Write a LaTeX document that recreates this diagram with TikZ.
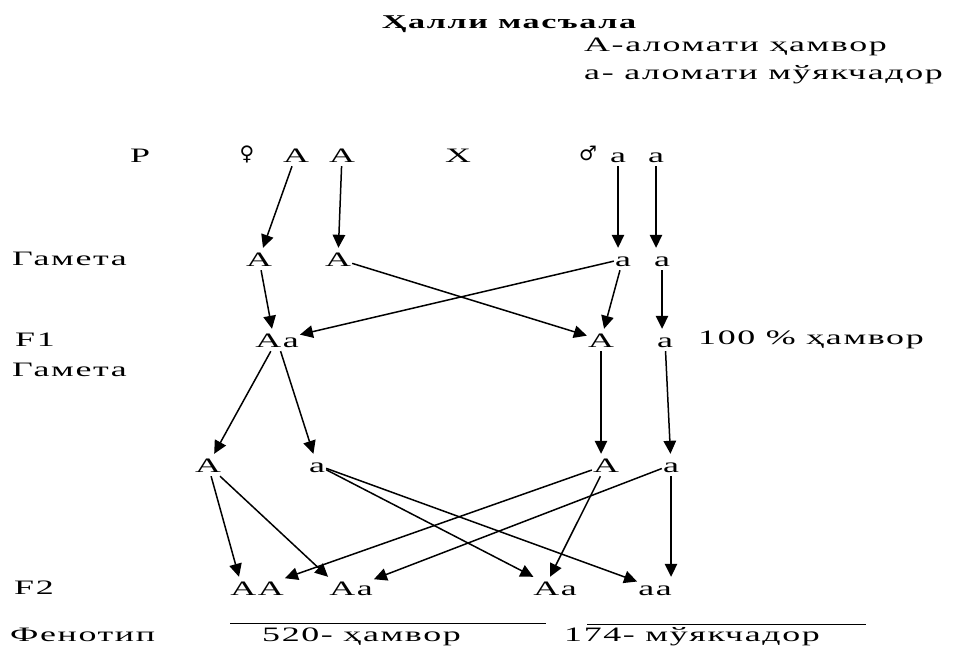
\documentclass[tikz,border=0pt]{standalone}
\usepackage{fontspec}
\setmainfont{Liberation Serif}[FakeStretch=1.75,LetterSpace=8]
\newfontfamily\symfont{DejaVu Sans}
\usetikzlibrary{arrows.meta}
\begin{document}
\begin{tikzpicture}[x=1pt,y=-1pt,
  lbl/.style={inner xsep=1pt,inner ysep=4pt,text height=14pt,text depth=0pt,font=\fontsize{20.5}{24}\selectfont},
  txt/.style={inner sep=0pt,anchor=west,font=\fontsize{20.5}{24}\selectfont},
  btxt/.style={inner sep=0pt,anchor=base west,font=\fontsize{20.5}{24}\selectfont},
  sym/.style={inner sep=1pt,font=\symfont\fontsize{20}{22}\selectfont},
  arr/.style={line width=1.5pt,-{Triangle[length=13pt,width=12.5pt]}},
  rule/.style={line width=1pt}]
\useasboundingbox (0,0) rectangle (955,648);
% header
\node[lbl,font=\fontsize{19.5}{23}\selectfont\bfseries] (title) at (509,21) {Ҳалли масъала};
\node[txt] (l1) at (584,47) {А-аломати ҳамвор};
\node[txt] (l2) at (584,75) {а- аломати мўякчадор};
% row P
\node[lbl] (P) at (140,155) {P};
\node[sym] (fem) at (247,154) {♀};
\node[lbl] (pA1) at (296,155) {A};
\node[lbl] (pA2) at (342,155) {A};
\node[lbl] (X) at (458,155) {X};
\node[sym] (mal) at (588,153) {♂};
\node[lbl] (pa1) at (618,155) {a};
\node[lbl] (pa2) at (656,155) {a};
% gametes
\node[txt] (gam1) at (12,259) {Гамета};
\node[lbl] (gA1) at (259,259) {A};
\node[lbl] (gA2) at (338,259) {A};
\node[lbl] (ga1) at (623,259) {a};
\node[lbl] (ga2) at (662,259) {a};
% F1
\node[txt] (F1) at (15,340) {F1};
\node[txt] (gam2) at (12,370) {Гамета};
\node[lbl] (f1Aa) at (277,340) {Aa};
\node[lbl] (f1A) at (601,340) {A};
\node[lbl] (f1a) at (665,340) {a};
\node[txt] (hundred) at (698,340) {100 \% ҳамвор};
% F1 gametes
\node[lbl] (gmA) at (208,465) {A};
\node[lbl] (gma) at (317,465) {a};
\node[lbl] (gmA2) at (606,465) {A};
\node[lbl] (gma2) at (671,465) {a};
% F2
\node[txt] (F2) at (14,588) {F2};
\node[lbl] (AA) at (257,588) {AA};
\node[lbl] (Aa1) at (351,588) {Aa};
\node[lbl] (Aa2) at (555,588) {Aa};
\node[lbl] (aa) at (655,588) {aa};
% phenotype
\node[btxt] (phen) at (10,641) {Фенотип};
\node[btxt] (dom) at (262,641) {520- ҳамвор};
\node[btxt] (rec) at (564,641) {174- мўякчадор};
\coordinate (r1a) at (230,623);
\coordinate (r1b) at (546,623);
\coordinate (r2a) at (587,624);
\coordinate (r2b) at (866,624);
\draw[rule] (r1a) -- (r1b);
\draw[rule] (r2a) -- (r2b);
% P -> gametes
\draw[arr] (pA1) -- (gA1);
\draw[arr] (pA2) -- (gA2);
\draw[arr] (pa1.south) -- (pa1.south |- ga1.north);
\draw[arr] (pa2.south) -- (pa2.south |- ga2.north);
% gametes -> F1
\draw[arr] (gA1) -- ([xshift=-5pt]f1Aa.north);
\draw[arr] (gA2) -- (f1A);
\draw[arr] (ga1) -- (f1Aa);
\draw[arr] (ga1) -- (f1A);
\draw[arr] (ga2.south) -- (ga2.south |- f1a.north);
% F1 -> gametes
\draw[arr] (f1Aa) -- (gmA);
\draw[arr] (f1Aa) -- (gma);
\draw[arr] (f1A.south) -- (f1A.south |- gmA2.north);
\draw[arr] (f1a) -- (gma2);
% gametes -> F2
\draw[arr] (gmA) -- ([xshift=-18pt]AA.north);
\draw[arr] (gmA) -- (Aa1.north west);
\draw[arr] (gma) -- (Aa2);
\draw[arr] (gma) -- (aa);
\draw[arr] (gmA2) -- (AA);
\draw[arr] (gmA2) -- ([xshift=-5pt]Aa2.north);
\draw[arr] (gma2) -- (Aa1);
\draw[arr] (gma2.south) -- (gma2.south |- aa.north);
\end{tikzpicture}
\end{document}
